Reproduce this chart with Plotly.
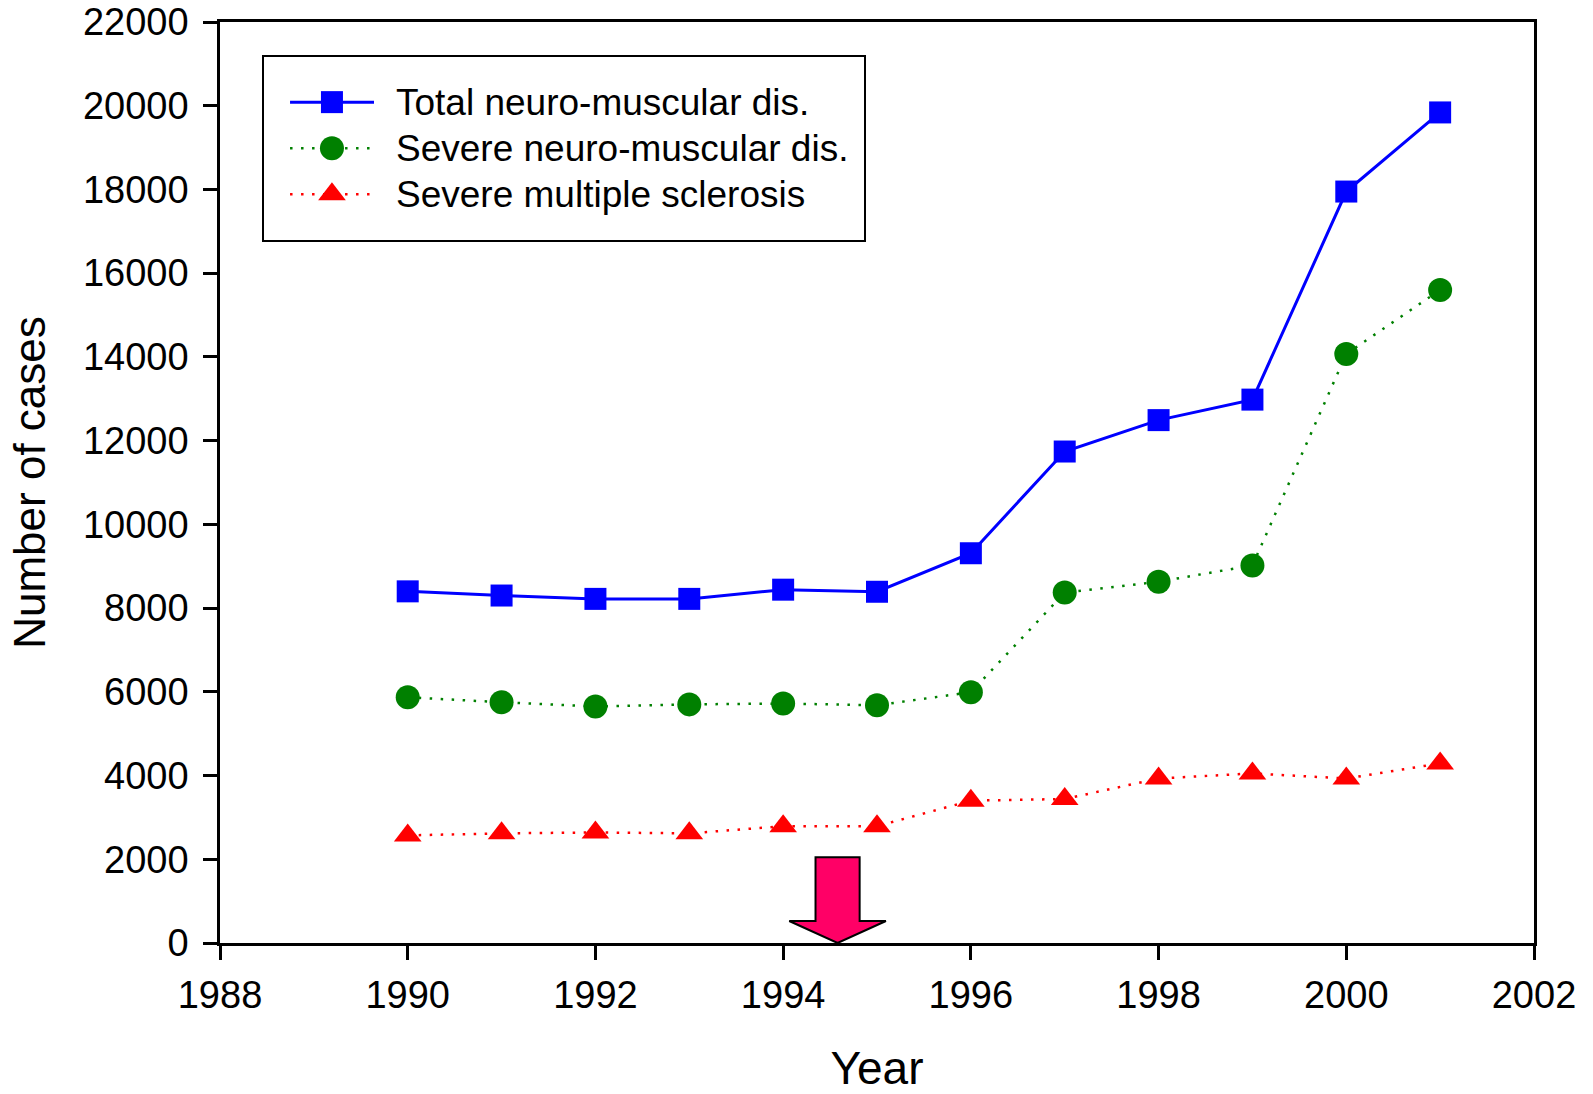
import plotly.graph_objects as go

years = [1990, 1991, 1992, 1993, 1994, 1995, 1996, 1997, 1998, 1999, 2000, 2001]
total_nm = [8400, 8300, 8220, 8220, 8440, 8390, 9310, 11740, 12490, 12980, 17950, 19840]
severe_nm = [5870, 5750, 5650, 5700, 5720, 5680, 5990, 8370, 8630, 9020, 14070, 15600]
severe_ms = [2570, 2620, 2640, 2620, 2790, 2790, 3400, 3440, 3930, 4050, 3930, 4290]

series_names = ["Total neuro-muscular dis.", "Severe neuro-muscular dis.", "Severe multiple sclerosis"]

x_ticks = [1988, 1990, 1992, 1994, 1996, 1998, 2000, 2002]
y_ticks = list(range(0, 22001, 2000))

# arrow marker (data units)
arrow_x = 1994.58
arrow_top = 2050
arrow_neck = 525
arrow_shaft_half = 0.235
arrow_head_half = 0.515

FONT = "Arial, Liberation Sans, sans-serif"

colors = ["#0000FF", "#008000", "#FF0000"]
symbols = ["square", "circle", "triangle-up"]
msizes = [22, 24, 24]
lwidths = [3, 2.5, 2.5]
dashes = ["solid", "2.5px,8.5px", "2.5px,8.5px"]
series = [total_nm, severe_nm, severe_ms]

fig = go.Figure()
for name, vals, c, s, ms, lw, d in zip(series_names, series, colors, symbols, msizes, lwidths, dashes):
    fig.add_trace(go.Scatter(
        x=years, y=vals, name=name, mode="lines+markers", showlegend=False,
        line=dict(color=c, width=lw, dash=d),
        marker=dict(symbol=s, size=ms, color=c),
    ))

# custom legend on an overlay axis spanning the plot area (0..1)
leg_rows = [0.913, 0.863, 0.813]
leg_x0, leg_xm, leg_x1, leg_tx = 0.0533, 0.0852, 0.1172, 0.1324
for name, c, s, ms, lw, d, ry in zip(series_names, colors, symbols, msizes, lwidths, dashes, leg_rows):
    fig.add_trace(go.Scatter(
        x=[leg_x0, leg_x1], y=[ry, ry], mode="lines", showlegend=False,
        xaxis="x2", yaxis="y2", hoverinfo="skip",
        line=dict(color=c, width=lw, dash=d),
    ))
    fig.add_trace(go.Scatter(
        x=[leg_xm], y=[ry], mode="markers", showlegend=False,
        xaxis="x2", yaxis="y2", hoverinfo="skip",
        marker=dict(symbol=s, size=ms, color=c),
    ))
    fig.add_annotation(x=leg_tx, y=ry, xref="x2", yref="y2", text=name,
                       showarrow=False, xanchor="left", yanchor="middle",
                       font=dict(family=FONT, size=37, color="black"))

ax_x = arrow_x
path = (
    f"M {ax_x - arrow_shaft_half},{arrow_top} "
    f"L {ax_x + arrow_shaft_half},{arrow_top} "
    f"L {ax_x + arrow_shaft_half},{arrow_neck} "
    f"L {ax_x + arrow_head_half},{arrow_neck} "
    f"L {ax_x},0 "
    f"L {ax_x - arrow_head_half},{arrow_neck} "
    f"L {ax_x - arrow_shaft_half},{arrow_neck} Z"
)
fig.add_shape(type="path", path=path, xref="x", yref="y",
              fillcolor="#FF0066", line=dict(color="black", width=2))

# legend frame
fig.add_shape(type="rect", xref="paper", yref="paper",
              x0=(263 - 220) / 1314, x1=(865 - 220) / 1314,
              y0=(943 - 241) / 921, y1=(943 - 56) / 921,
              line=dict(color="black", width=2), fillcolor="rgba(0,0,0,0)")

fig.update_layout(
    width=1593, height=1094,
    margin=dict(l=220, r=59, t=22, b=151),
    paper_bgcolor="white", plot_bgcolor="white",
    font=dict(family=FONT, size=38, color="black"),
    showlegend=False,
    xaxis=dict(
        range=[1988, 2002], tickvals=x_ticks, ticktext=[str(v) for v in x_ticks],
        showline=True, linecolor="black", linewidth=2.5, mirror=True,
        ticks="outside", ticklen=14, tickwidth=2.5, tickcolor="black",
        showgrid=False, zeroline=False, automargin=False, ticklabelstandoff=3,
        tickfont=dict(family=FONT, size=38),
        title=dict(text="Year", font=dict(family=FONT, size=46), standoff=47),
    ),
    yaxis=dict(
        range=[0, 22000], tickvals=y_ticks, ticktext=[str(v) for v in y_ticks],
        showline=True, linecolor="black", linewidth=2.5, mirror=True,
        ticks="outside", ticklen=14, tickwidth=2.5, tickcolor="black",
        showgrid=False, zeroline=False, automargin=False, ticklabelstandoff=7,
        tickfont=dict(family=FONT, size=38),
        title=dict(text="Number of cases", font=dict(family=FONT, size=44), standoff=24),
    ),
    xaxis2=dict(range=[0, 1], overlaying="x", visible=False, fixedrange=True),
    yaxis2=dict(range=[0, 1], overlaying="y", visible=False, fixedrange=True),
)

fig.write_html("out.html", config={"displayModeBar": False},
               post_script="document.body.style.margin='0';document.body.style.overflow='hidden';")
